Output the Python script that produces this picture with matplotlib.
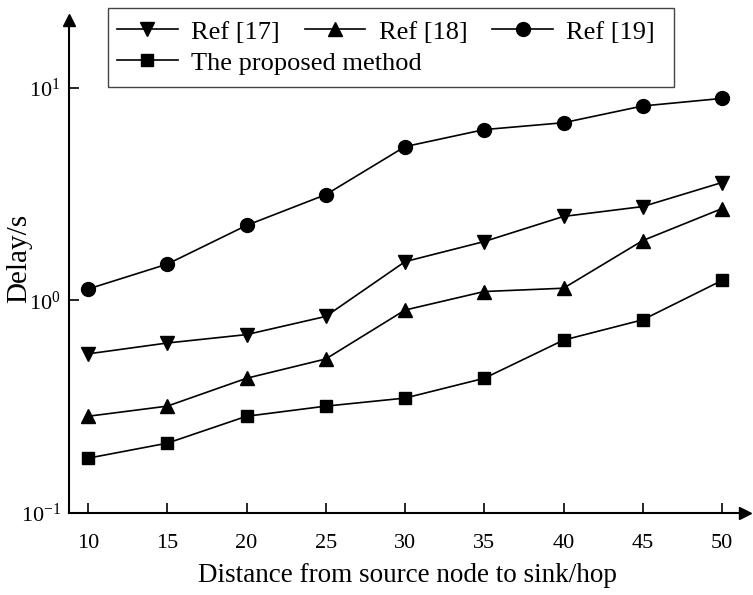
import numpy as np
import matplotlib
matplotlib.use('Agg')
import matplotlib.pyplot as plt
from matplotlib.patches import Rectangle

# --- data --- #
hops = [10, 15, 20, 25, 30, 35, 40, 45, 50]
ref17 = [0.56, 0.63, 0.69, 0.84, 1.52, 1.89, 2.48, 2.76, 3.58]
ref18 = [0.285, 0.318, 0.43, 0.53, 0.90, 1.10, 1.14, 1.91, 2.70]
ref19 = [1.13, 1.48, 2.25, 3.14, 5.28, 6.35, 6.84, 8.2, 8.9]
proposed = [0.181, 0.213, 0.285, 0.318, 0.347, 0.43, 0.65, 0.81, 1.24]

plt.rcParams['font.family'] = ['Liberation Serif', 'DejaVu Serif']
plt.rcParams['mathtext.fontset'] = 'stix'

W, H = 753, 595
fig = plt.figure(figsize=(W / 100, H / 100), dpi=100)
ax = fig.add_axes([69 / W, (H - 513) / H, (745 - 69) / W, (513 - 20) / H])

lw = 1.2
l17, = ax.plot(hops, ref17, color='black', lw=lw, marker='v', ms=10, label='Ref [17]')
l18, = ax.plot(hops, ref18, color='black', lw=lw, marker='^', ms=10, label='Ref [18]')
l19, = ax.plot(hops, ref19, color='black', lw=lw, marker='o', ms=10, label='Ref [19]')
lp, = ax.plot(hops, proposed, color='black', lw=lw, marker='s', ms=8.5, label='The proposed method')

ax.set_yscale('log')
ax.set_xlim(8.8, 51.45)
ax.set_ylim(0.1, 20.8)
ax.set_xticks(hops)
ax.set_yticks([0.1, 1, 10])
ax.minorticks_off()
ax.tick_params(direction='in', length=7, width=1.2, labelsize=16)
ax.tick_params(axis='x', pad=15)
ax.tick_params(axis='y', pad=6)

for s in ['top', 'right']:
    ax.spines[s].set_visible(False)
for s in ['left', 'bottom']:
    ax.spines[s].set_linewidth(1.5)

# arrow heads at the axis ends
ax.plot(1, 0, '>k', ms=9, transform=ax.transAxes, clip_on=False)
ax.plot(0, 1, '^k', ms=9, transform=ax.transAxes, clip_on=False)

ax.set_xlabel('Distance from source node to sink/hop', fontsize=19.5)
ax.xaxis.set_label_coords(0.5, -(576 - 513) / (513 - 20), transform=ax.transAxes)
ax.xaxis.label.set_va('center')
ax.set_ylabel('Delay/s', fontsize=21)
ax.yaxis.set_label_coords(-(69 - 19) / (745 - 69), (513 - 258) / (513 - 20), transform=ax.transAxes)
ax.yaxis.label.set_va('center')

# --- legend: box + two frameless legends --- #
fig.patches.append(Rectangle((108 / W, 1 - 87 / H), (674 - 108) / W, 79 / H,
                             transform=fig.transFigure, fill=False,
                             edgecolor='#444444', lw=1))
leg1 = fig.legend(handles=[l17, l18, l19], ncol=3, loc='center left',
                  bbox_to_anchor=(117 / W, 1 - 32 / H), frameon=False,
                  fontsize=19, handlelength=2.3, handletextpad=0.5,
                  columnspacing=0.95, borderpad=0, borderaxespad=0)
leg2 = fig.legend(handles=[lp], loc='center left',
                  bbox_to_anchor=(117 / W, 1 - 63 / H), frameon=False,
                  fontsize=19, handlelength=2.3, handletextpad=0.5,
                  borderpad=0, borderaxespad=0)

fig.savefig('out.png', dpi=100)
